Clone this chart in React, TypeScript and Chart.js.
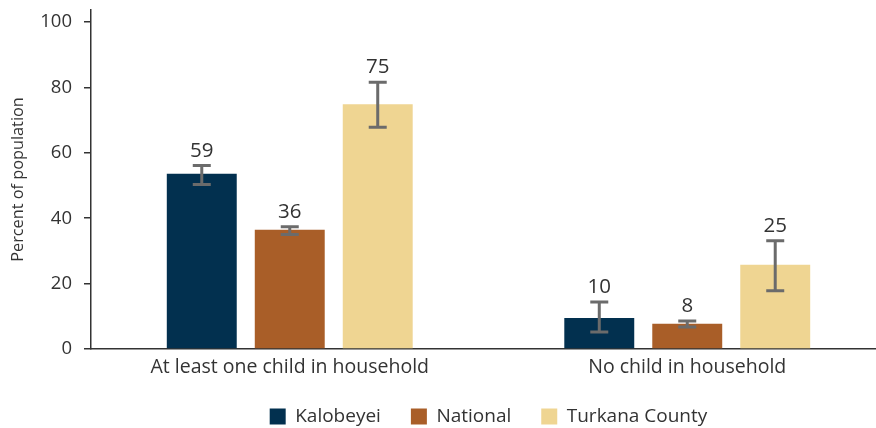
import React, { useEffect, useRef } from "react";
import { Chart, registerables } from "chart.js";

Chart.register(...registerables);

const categories = ["At least one child in household", "No child in household"];
const seriesNames = ["Kalobeyei", "National", "Turkana County"];
const seriesColors = ["#02304F", "#A95E28", "#EFD592"];
const barValues = [
  [53.6, 9.5],
  [36.5, 7.7],
  [74.9, 25.8],
];
const errLow = [
  [50.3, 5.2],
  [35.0, 6.7],
  [67.8, 17.8],
];
const errHigh = [
  [56.1, 14.4],
  [37.4, 8.6],
  [81.6, 33.1],
];
const valueLabels = [
  ["59", "10"],
  ["36", "8"],
  ["75", "25"],
];
const yTicks = [0, 20, 40, 60, 80, 100];

const FONT = "'Open Sans', sans-serif";
const TEXT = "#333333";

const errorBarPlugin = {
  id: "errorBars",
  afterDatasetsDraw(chart: any) {
    const ctx = chart.ctx;
    const y = chart.scales.y;
    chart.data.datasets.forEach((ds: any, di: number) => {
      const meta = chart.getDatasetMeta(di);
      meta.data.forEach((bar: any, i: number) => {
        const x = bar.x;
        const yl = y.getPixelForValue(errLow[di][i]);
        const yh = y.getPixelForValue(errHigh[di][i]);
        ctx.save();
        ctx.strokeStyle = "#6B6B6B";
        ctx.lineWidth = 3;
        ctx.beginPath();
        ctx.moveTo(x, yl);
        ctx.lineTo(x, yh);
        ctx.moveTo(x - 9, yl);
        ctx.lineTo(x + 9, yl);
        ctx.moveTo(x - 9, yh);
        ctx.lineTo(x + 9, yh);
        ctx.stroke();
        ctx.fillStyle = TEXT;
        ctx.font = `20.5px ${FONT}`;
        ctx.textAlign = "center";
        ctx.textBaseline = "alphabetic";
        ctx.fillText(valueLabels[di][i], x, yh - 9);
        ctx.restore();
      });
    });
  },
};

export default function App() {
  const ref = useRef<HTMLCanvasElement>(null);
  useEffect(() => {
    document.body.style.margin = "0";
    document.body.style.overflow = "hidden";
    const chart = new Chart(ref.current!, {
      type: "bar",
      data: {
        labels: categories,
        datasets: seriesNames.map((name, i) => ({
          label: name,
          data: barValues[i],
          backgroundColor: seriesColors[i],
          borderWidth: 0,
          categoryPercentage: 0.664,
          barPercentage: 0.795,
        })),
      },
      options: {
        animation: false,
        responsive: false,
        maintainAspectRatio: false,
        layout: { padding: { top: 10, bottom: -8, left: 0, right: 0 } },
        plugins: {
          legend: {
            position: "bottom",
            fullSize: false,
            labels: {
              boxWidth: 16,
              boxHeight: 16,
              padding: 30,
              color: TEXT,
              font: { family: FONT, size: 19 },
            },
          },
          tooltip: { enabled: false },
        },
        scales: {
          x: {
            grid: { display: false, drawTicks: false },
            border: { display: true, color: "#333333", width: 1.5 },
            ticks: { color: TEXT, font: { family: FONT, size: 19.5 }, padding: 7 },
            afterFit: (s: any) => {
              s.height = 28;
            },
          },
          y: {
            min: 0,
            max: 103.7,
            grid: {
              display: true,
              drawOnChartArea: false,
              drawTicks: true,
              tickLength: 7,
              color: "#333333",
              lineWidth: 1.5,
            },
            border: { display: true, color: "#333333", width: 1.5 },
            ticks: {
              stepSize: 20,
              color: TEXT,
              font: { family: FONT, size: 18.5 },
              padding: 12,
            },
            afterBuildTicks: (s: any) => {
              s.ticks = yTicks.map((v) => ({ value: v }));
            },
            title: {
              display: true,
              text: "Percent of population",
              color: TEXT,
              font: { family: FONT, size: 16.3 },
              padding: { top: 9, bottom: 0 },
            },
            afterFit: (s: any) => {
              s.width = 91;
              s.paddingTop = 0;
            },
          },
        },
      },
      plugins: [errorBarPlugin],
    });
    return () => chart.destroy();
  }, []);
  return (
    <div style={{ width: 886, height: 428 }}>
      <canvas ref={ref} width={886} height={428} style={{ display: "block" }} />
    </div>
  );
}
